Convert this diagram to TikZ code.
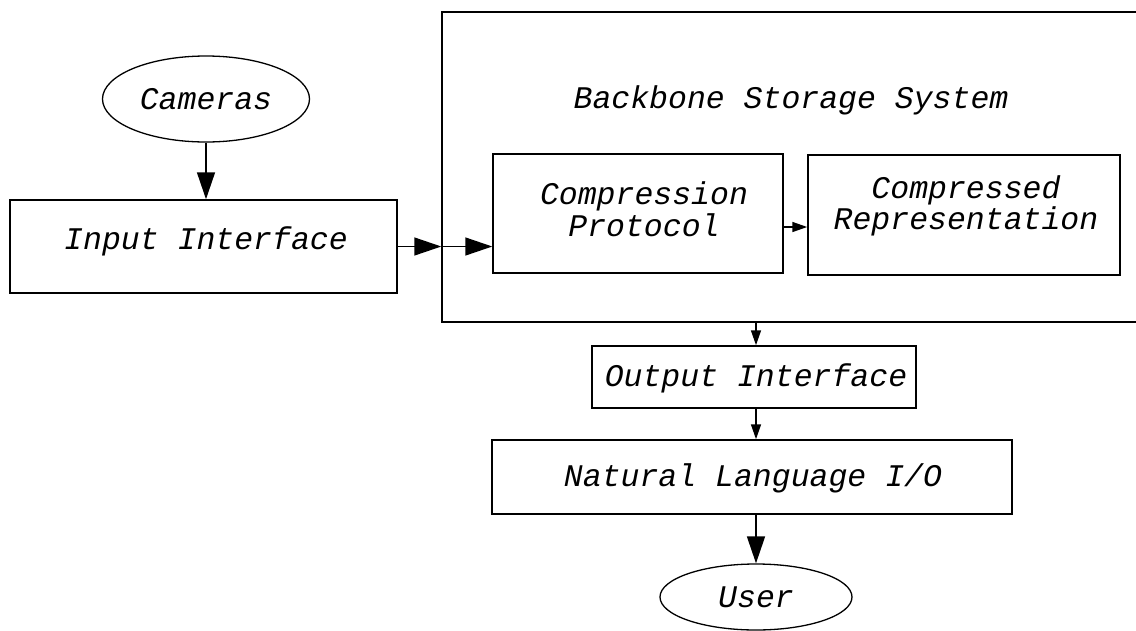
\documentclass[tikz,border=0pt]{standalone}
\usepackage{fontspec}
\setmainfont{Liberation Mono}
\usetikzlibrary{arrows.meta,shapes.geometric}
\begin{document}
\begin{tikzpicture}[x=1pt,y=-1pt,
  every node/.style={font=\fontsize{31.5}{34}\selectfont\itshape},
  box/.style={draw,line width=1.5pt,rectangle,inner sep=0pt},
  oval/.style={draw,line width=1.3pt,ellipse,inner sep=0pt},
  txt/.style={inner sep=0pt},
  bigarr/.style={line width=1.5pt,-{Triangle[length=27pt,width=18pt]}},
  smallarr/.style={line width=1.5pt,-{Triangle[length=15pt,width=10pt]}}]
\useasboundingbox (0,0) rectangle (1136,630);
\clip (0,0) rectangle (1136,630);
% nodes
\node[oval,minimum width=207pt,minimum height=86pt] (cam) at (206,99) {Cameras};
\node[box,minimum width=387pt,minimum height=93pt] (in) at (203.5,246.5) {};
\node[txt] (intxt) at (206,241) {Input Interface};
\node[box,minimum width=720pt,minimum height=310pt] (bb) at (802,167) {};
\node[txt] (bbtxt) at (791,100) {Backbone Storage System};
\node[box,minimum width=290pt,minimum height=119pt] (cp) at (638,213.5) {};
\node[txt,align=center,font=\fontsize{31.5}{32}\selectfont\itshape] (cptxt) at (644,209) {Compression\\Protocol};
\node[box,minimum width=312pt,minimum height=120pt] (cr) at (964,215) {};
\node[txt,align=center,font=\fontsize{31.5}{25}\selectfont\itshape] (crtxt) at (966,206) {Compressed\\Representation};
\node[box,minimum width=324pt,minimum height=62pt] (out) at (754,377) {};
\node[txt] (outtxt) at (756,378) {Output Interface};
\node[box,minimum width=520pt,minimum height=74pt] (nl) at (752,477) {};
\node[txt] (nltxt) at (753,478) {Natural Language I/O};
\node[oval,minimum width=192pt,minimum height=66pt] (user) at (756,597) {User};
\coordinate (mid) at (795,227);
% connectors
\draw[bigarr] (cam.south) -- (cam.south |- in.north);
\draw[bigarr] (in.east) -- (bb.west |- in.east);
\draw[bigarr] (bb.west |- in.east) -- (cp.west |- in.east);
\draw[smallarr] (cp.east |- mid) -- (cr.west |- mid);
\draw[smallarr] (bb.south -| outtxt.center) -- (out.north -| outtxt.center);
\draw[smallarr] (out.south -| outtxt.center) -- (nl.north -| outtxt.center);
\draw[bigarr] (nl.south -| user.north) -- (user.north);
\end{tikzpicture}
\end{document}
